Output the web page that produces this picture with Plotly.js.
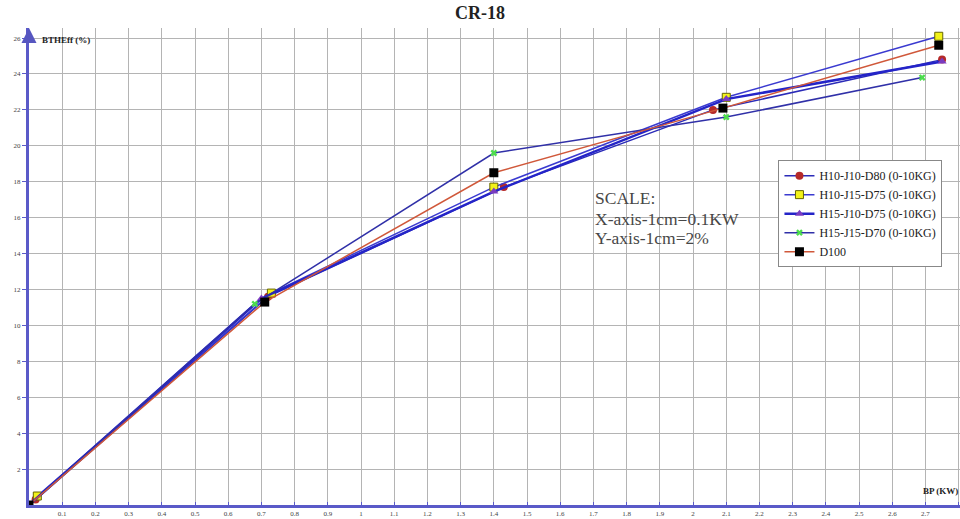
<!DOCTYPE html>
<html>
<head>
<meta charset="utf-8">
<script src="https://cdn.plot.ly/plotly-3.0.1.min.js"></script>
<style>html,body{margin:0;padding:0;background:#fff;}#chart{width:960px;height:519px;}</style>
</head>
<body>
<div id="chart"></div>
<script>
// ---- data ----
const seriesNames = ["H10-J10-D80 (0-10KG)", "H10-J15-D75 (0-10KG)", "H15-J10-D75 (0-10KG)", "H15-J15-D70 (0-10KG)", "D100"];
const bpH10J10D80 = [0.02, 0.72, 1.43, 2.06, 2.75];
const effH10J10D80 = [0.3, 11.6, 17.7, 22.0, 24.8];
const bpH10J15D75 = [0.025, 0.73, 1.40, 2.10, 2.74];
const effH10J15D75 = [0.5, 11.8, 17.7, 22.7, 26.1];
const bpH15J10D75 = [0.0, 0.70, 1.40, 2.10, 2.75];
const effH15J10D75 = [0.0, 11.5, 17.45, 22.6, 24.7];
const bpH15J15D70 = [0.0, 0.68, 1.40, 2.10, 2.69];
const effH15J15D70 = [0.0, 11.2, 19.6, 21.6, 23.8];
const bpD100 = [0.0, 0.71, 1.40, 2.09, 2.74];
const effD100 = [0.0, 11.3, 18.5, 22.1, 25.6];

const xTickVals = [0.1,0.2,0.3,0.4,0.5,0.6,0.7,0.8,0.9,1,1.1,1.2,1.3,1.4,1.5,1.6,1.7,1.8,1.9,2,2.1,2.2,2.3,2.4,2.5,2.6,2.7,2.8];
const xTickText = ["0.1","0.2","0.3","0.4","0.5","0.6","0.7","0.8","0.9","1","1.1","1.2","1.3","1.4","1.5","1.6","1.7","1.8","1.9","2","2.1","2.2","2.3","2.4","2.5","2.6","2.7","2.8"];
const yTickVals = [2,4,6,8,10,12,14,16,18,20,22,24,26];
const yTickText = ["2","4","6","8","10","12","14","16","18","20","22","24","26"];
const titleText = "CR-18";
const yTitleText = "BTHEff (%)";
const xTitleText = "BP (KW)";
const scaleLines = ["SCALE:", "X-axis-1cm=0.1KW", "Y-axis-1cm=2%"];

// ---- styles ----
const blueLine = '#2b2bb8';
const traces = [
  {x: bpH10J10D80, y: effH10J10D80, name: seriesNames[0], mode: 'lines+markers',
   line: {color: blueLine, width: 1.5}, marker: {symbol: 'circle', size: 8, color: '#b52a2a'}},
  {x: bpH10J15D75, y: effH10J15D75, name: seriesNames[1], mode: 'lines+markers',
   line: {color: '#3a3ad0', width: 1.5}, marker: {symbol: 'square', size: 8, color: '#f2f21a', line: {color: '#666600', width: 1}}},
  {x: bpH15J10D75, y: effH15J10D75, name: seriesNames[2], mode: 'lines+markers',
   line: {color: '#2424c8', width: 2.5}, marker: {symbol: 'triangle-up', size: 8, color: '#7a3cc0'}},
  {x: bpH15J15D70, y: effH15J15D70, name: seriesNames[3], mode: 'lines+markers',
   line: {color: '#3030a8', width: 1.5}, marker: {symbol: 'x', size: 6, color: '#4ddd4d'}},
  {x: bpD100, y: effD100, name: seriesNames[4], mode: 'lines+markers',
   line: {color: '#d0583a', width: 1.5}, marker: {symbol: 'square', size: 9, color: '#000000'}}
];

const scaleY = [0.643, 0.599, 0.559];
const annotations = [
  {xref: 'paper', yref: 'paper', x: 0.012, y: 0.975, xanchor: 'left', yanchor: 'middle', showarrow: false,
   text: '<b>' + yTitleText + '</b>', font: {family: 'Liberation Serif', size: 9, color: '#222'}},
  {xref: 'paper', yref: 'paper', x: 1.0, y: 0.03, xanchor: 'right', yanchor: 'middle', showarrow: false,
   text: '<b>' + xTitleText + '</b>', font: {family: 'Liberation Serif', size: 9, color: '#222'}},
  {xref: 'paper', yref: 'paper', x: 0, y: 1.0, ax: 0, ay: 14, axref: 'pixel', ayref: 'pixel', showarrow: true,
   arrowhead: 2, arrowsize: 1, arrowwidth: 3, arrowcolor: '#5656c0', text: ''}
];
scaleLines.forEach(function (t, i) {
  annotations.push({xref: 'paper', yref: 'paper', x: 0.6058, y: scaleY[i], xanchor: 'left', yanchor: 'middle',
    showarrow: false, text: t, font: {family: 'Liberation Serif', size: 17.5, color: '#474747'}});
});

const layout = {
  width: 960, height: 519,
  margin: {l: 29, r: 0, t: 28, b: 14, pad: 0},
  paper_bgcolor: '#ffffff', plot_bgcolor: '#ffffff',
  title: {text: '<b>' + titleText + '</b>', x: 0.5, xanchor: 'center', y: 0.976, yanchor: 'middle', yref: 'container',
          font: {family: 'Liberation Serif', size: 18, color: '#222'}},
  font: {family: 'Liberation Serif', color: '#333'},
  showlegend: true,
  legend: {x: 0.805, y: 0.723, xanchor: 'left', yanchor: 'top', bgcolor: '#ffffff', bordercolor: '#888', borderwidth: 1,
           font: {family: 'Liberation Serif', size: 12, color: '#222'}, tracegroupgap: 0, itemwidth: 30},
  xaxis: {range: [0, 2.804], tickvals: xTickVals, ticktext: xTickText, showgrid: true, gridcolor: '#b4b4b4', gridwidth: 1,
          showline: true, linecolor: '#5a5ac8', linewidth: 3, zeroline: false, ticks: 'inside', ticklen: 3, tickcolor: '#5a5ac8',
          tickfont: {family: 'Liberation Serif', size: 7, color: '#444'}, fixedrange: true},
  yaxis: {range: [0, 26.56], tickvals: yTickVals, ticktext: yTickText, showgrid: true, gridcolor: '#b4b4b4', gridwidth: 1,
          showline: true, linecolor: '#5a5ac8', linewidth: 3, zeroline: false, ticks: 'outside', ticklen: 4, tickcolor: '#5a5ac8',
          tickfont: {family: 'Liberation Serif', size: 7, color: '#444'}, fixedrange: true},
  annotations: annotations
};

Plotly.newPlot('chart', traces, layout, {displayModeBar: false, staticPlot: true});
</script>
</body>
</html>
